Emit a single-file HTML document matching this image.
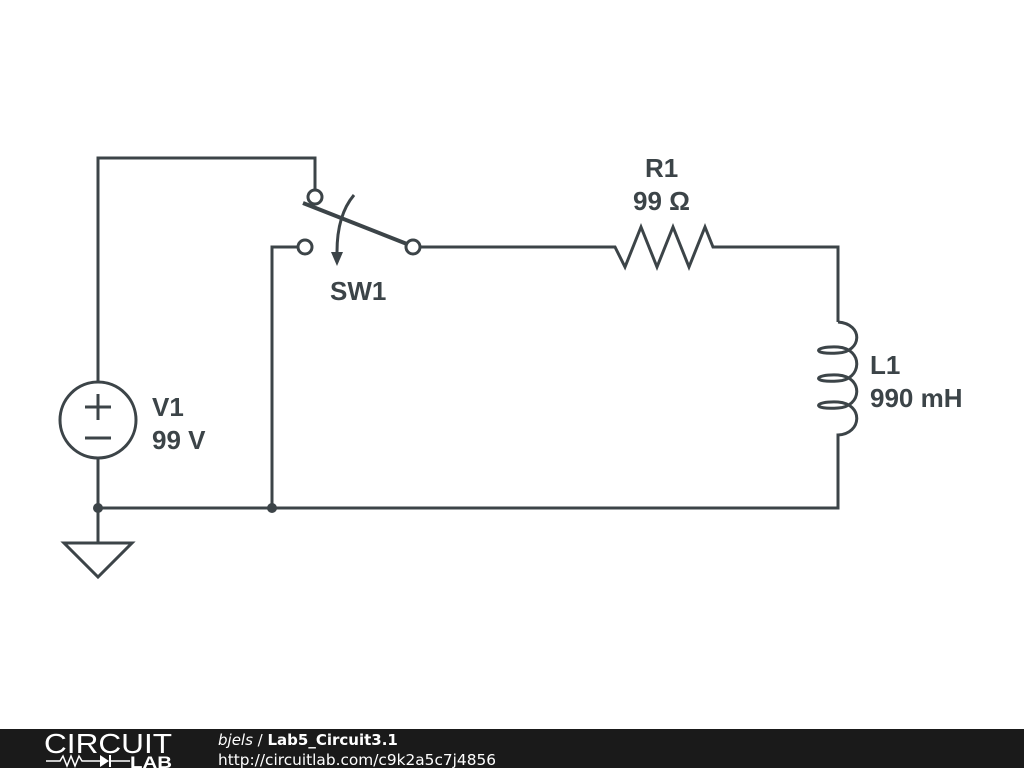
<!DOCTYPE html>
<html><head><style>
html,body{margin:0;padding:0;background:#fff;width:1024px;height:768px;overflow:hidden}
svg{display:block}
text{font-family:"Liberation Sans",sans-serif;font-weight:bold;fill:#3c4448}
</style></head><body>
<svg width="1024" height="768" viewBox="0 0 1024 768" xmlns="http://www.w3.org/2000/svg">
<g stroke="#3c4448" stroke-width="3" fill="none" stroke-linejoin="miter">
<polyline points="98,382 98,158 315,158 315,190"/>
<circle cx="315" cy="197" r="7"/>
<circle cx="305" cy="247" r="7"/>
<circle cx="413" cy="247" r="7"/>
<polyline points="298,247 272,247 272,508"/>
<line x1="303" y1="203" x2="407" y2="244" stroke-width="4"/>
<path d="M354,195 Q337,215 337,252"/>
<polyline points="420,247 615,247 625,267 641,227 657,267 673,227 689,267 705,227 713,247 838,247 838,322"/>
<path d="M838,322 C864,324 862,352 838,353 C812,355 812,346 838,347 C864,349 862,380 838,381 C812,383 812,374 838,375 C864,377 862,407 838,408 C812,410 812,401 838,402 C864,404 862,434 838,435 L838,508 98,508"/>
<circle cx="98" cy="420" r="38"/>
<line x1="98" y1="458" x2="98" y2="543"/>
<line x1="85" y1="407" x2="111" y2="407"/>
<line x1="98" y1="394" x2="98" y2="420"/>
<line x1="85" y1="438" x2="111" y2="438"/>
<polygon points="64,543 132,543 98,577"/>
</g>
<polygon points="331,252 343,252 337,266" fill="#3c4448"/>
<circle cx="98" cy="508" r="5" fill="#3c4448"/>
<circle cx="272" cy="508" r="5" fill="#3c4448"/>
<text x="330" y="300" font-size="26">SW1</text>
<text x="645" y="177" font-size="26">R1</text>
<text x="633" y="210" font-size="26">99 Ω</text>
<text x="870" y="374" font-size="26">L1</text>
<text x="870" y="407" font-size="26">990 mH</text>
<text x="152" y="416" font-size="26">V1</text>
<text x="152" y="449" font-size="26">99 V</text>
<rect x="0" y="729" width="1024" height="39" fill="#1a1a1a"/>
<text x="44" y="753" font-size="28" textLength="128" lengthAdjust="spacingAndGlyphs" style="font-weight:normal;fill:#fff">CIRCUIT</text>
<polyline points="46,761 60,761 63,756 67,766 71,756 75,766 79,756 82,761 100,761" stroke="#fff" stroke-width="1.5" fill="none"/>
<polygon points="100,755 100,767 109,761" fill="#fff"/>
<line x1="110" y1="755" x2="110" y2="767" stroke="#fff" stroke-width="2"/>
<line x1="110" y1="761" x2="130" y2="761" stroke="#fff" stroke-width="1.5"/>
<text x="130" y="768" font-size="17" textLength="42" lengthAdjust="spacingAndGlyphs" style="fill:#fff">LAB</text>
<text x="218" y="745" font-size="15" style="fill:#fff;font-weight:normal;font-family:'DejaVu Sans',sans-serif"><tspan font-style="italic">bjels</tspan> / <tspan font-weight="bold">Lab5_Circuit3.1</tspan></text>
<text x="218" y="765" font-size="15" textLength="278" lengthAdjust="spacingAndGlyphs" style="fill:#fff;font-weight:normal;font-family:'DejaVu Sans',sans-serif">http://circuitlab.com/c9k2a5c7j4856</text>
</svg>
</body></html>
